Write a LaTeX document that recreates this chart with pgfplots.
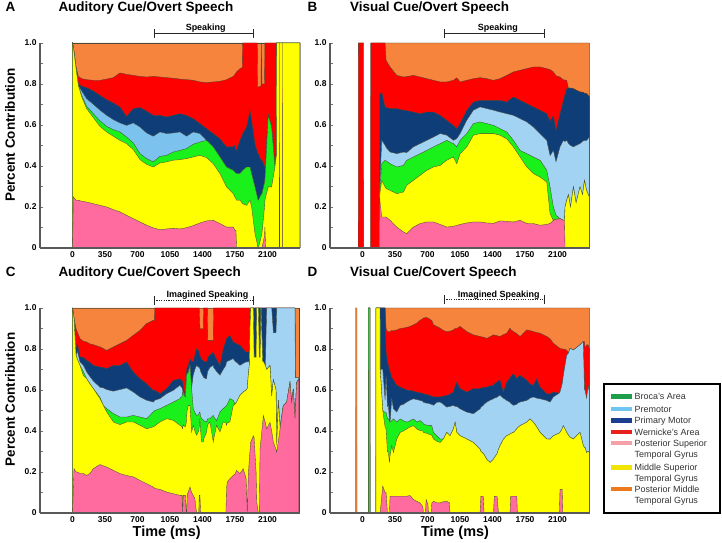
\documentclass[border=0pt]{standalone}
\usepackage{pgfplots}
\pgfplotsset{compat=1.18}
\usepackage{pgfplotstable}
\usepackage{fontspec}
\setmainfont{Liberation Sans}

\definecolor{cOr}{HTML}{F7843C}
\definecolor{cRd}{HTML}{FF0000}
\definecolor{cDb}{HTML}{0F3D78}
\definecolor{cLbA}{HTML}{7CC2EE}
\definecolor{cLb}{HTML}{A3D3F3}
\definecolor{cGr}{HTML}{1AF01A}
\definecolor{cYe}{HTML}{FFFF00}
\definecolor{cPk}{HTML}{FF6B9E}
\definecolor{cLine}{HTML}{4A4A3A}
\definecolor{lgGr}{HTML}{1E9E4A}
\definecolor{lgLb}{HTML}{6EC6F0}
\definecolor{lgDb}{HTML}{1B3F8E}
\definecolor{lgRd}{HTML}{E8201E}
\definecolor{lgPk}{HTML}{F4A1A8}
\definecolor{lgYe}{HTML}{F0E400}
\definecolor{lgOr}{HTML}{EE7A1E}

% Panel A: Auditory Cue / Overt Speech (cumulative layer tops)
\pgfplotstableread{
x pk ye gr lb db rd or
0 0 1 1 1 1 1 1
9 .249 .98 .98 .98 .98 .98 1
38 .233 .875 .875 .875 .875 .883 1
63 .233 .793 .793 .793 .802 .837 1
99 .228 .737 .745 .766 .789 .826 1
152 .224 .680 .691 .728 .782 .821 1
224 .216 .636 .655 .701 .766 .818 1
296 .208 .593 .620 .672 .745 .818 1
368 .200 .566 .593 .647 .724 .824 1
440 .187 .545 .577 .626 .707 .831 1
511 .176 .525 .566 .610 .688 .854 1
583 .159 .509 .541 .598 .642 .847 1
655 .143 .480 .512 .610 .680 .842 1
727 .127 .431 .460 .590 .685 .837 1
798 .111 .408 .436 .561 .668 .834 1
870 .098 .395 .420 .545 .647 .837 1
942 .089 .415 .447 .566 .647 .834 1
1014 .093 .420 .452 .558 .639 .831 1
1085 .096 .428 .468 .561 .647 .828 1
1157 .093 .431 .476 .566 .655 .824 1
1229 .099 .436 .485 .545 .647 .821 1
1300 .109 .444 .506 .566 .631 .818 1
1372 .122 .452 .517 .558 .607 .810 1
1444 .132 .441 .525 .525 .582 .807 1
1516 .135 .411 .493 .493 .558 .810 1
1588 .119 .363 .444 .444 .533 .813 1
1659 .102 .298 .395 .395 .493 .821 1
1731 .102 .265 .379 .379 .493 .837 1
1749 .086 .249 .371 .371 .501 .847 1
1760 .086 .240 .366 .366 .480 .855 1
1767 0 .233 .363 .363 .476 .859 1
1803 0 .233 .363 .363 .525 .875 1
1828 0 .220 .375 .375 .550 .880 1
1832 0 .216 .379 .379 .558 1 1
1875 0 .208 .395 .395 .590 1 1
1911 0 .233 .395 .395 .672 1 1
1929 0 .200 .363 .363 .623 1 1
1965 0 .070 .298 .298 .509 1 1
1990 0 .020 .250 .250 .470 1 1
1993 0 0 .240 .240 .465 .785 1
2001 0 0 .233 .233 .460 .785 1
2030 0 .050 .260 .260 .430 .790 1
2034 0 .060 .260 .260 .430 1 1
2040 0 .070 .265 .265 .428 .800 1
2068 .060 .200 .320 .320 .400 .800 1
2072 .102 .233 .330 .330 .395 1 1
2080 0 .250 .400 .400 .450 1 1
2108 0 .298 .649 .649 .649 1 1
2144 0 .298 .590 .590 .590 1 1
2180 0 .395 .395 .395 .395 1 1
2195 0 .450 .450 .450 .450 1 1
2198 0 1 1 1 1 1 1
2228 0 1 1 1 1 1 1
2229 1 1 1 1 1 1 1
2231 0 1 1 1 1 1 1
2258 0 1 1 1 1 1 1
2259 1 1 1 1 1 1 1
2261 0 1 1 1 1 1 1
2449 0 1 1 1 1 1 1
}\tA

% Panel B: Visual Cue / Overt Speech
\pgfplotstableread{
x pk ye gr lb db rd or
-46 0 0 0 0 0 0 0
-45 0 0 0 0 0 1 1
10 0 0 0 0 0 1 1
11 0 0 0 0 0 0 0
88 0 0 0 0 0 0 0
89 0 0 0 0 0 1 1
180 0 0 0 0 0 1 1
182 .249 .249 .249 .249 .746 1 1
207 .151 .330 .411 .525 .761 1 1
243 .151 .298 .428 .501 .688 1 1
254 .151 .290 .425 .490 .685 .915 1
297 .135 .281 .411 .468 .680 .883 1
369 .102 .265 .395 .460 .680 .842 1
441 .078 .273 .403 .468 .672 .834 1
476 .070 .306 .428 .465 .670 .836 1
548 .102 .330 .444 .493 .663 .842 1
620 .119 .354 .460 .509 .655 .834 1
692 .127 .379 .476 .525 .663 .826 1
764 .127 .395 .493 .541 .663 .818 1
836 .115 .403 .509 .558 .647 .810 1
907 .102 .428 .525 .550 .623 .810 1
979 .106 .444 .509 .525 .598 .818 1
1015 .110 .411 .493 .533 .582 .830 1
1051 .115 .460 .525 .558 .607 .810 1
1123 .122 .493 .558 .623 .672 .818 1
1194 .127 .550 .607 .672 .712 .826 1
1266 .127 .558 .615 .688 .720 .831 1
1338 .122 .558 .607 .680 .720 .826 1
1410 .120 .558 .598 .672 .720 .818 1
1481 .132 .550 .582 .663 .720 .826 1
1553 .130 .533 .566 .655 .712 .842 1
1625 .127 .493 .525 .647 .737 .859 1
1697 .135 .444 .476 .631 .720 .867 1
1769 .120 .395 .460 .615 .704 .875 1
1840 .119 .363 .444 .590 .688 .883 1
1912 .111 .346 .428 .558 .672 .883 1
1984 .115 .322 .379 .525 .655 .875 1
2020 .120 .167 .298 .450 .620 .870 1
2055 .135 .135 .200 .476 .647 .859 1
2084 .140 .140 .160 .420 .574 .840 1
2127 .143 .143 .143 .493 .655 .834 1
2163 .135 .135 .135 .525 .720 .820 1
2175 .135 .135 .135 .520 .740 .820 1
2181 0 .200 .200 .520 .750 .819 1
2199 0 .233 .233 .525 .777 .818 1
2217 0 .260 .260 .510 .780 .780 1
2240 0 .200 .200 .500 .780 .780 1
2271 0 .298 .298 .493 .777 .777 1
2300 0 .220 .220 .500 .770 .770 1
2342 0 .298 .298 .509 .761 .761 1
2370 0 .260 .260 .520 .760 .760 1
2390 0 .330 .330 .525 .755 .755 1
2413 0 .280 .280 .525 .753 .753 1
2443 0 .249 .249 .541 .737 .737 1
}\tB

% Panel C: Auditory Cue / Covert Speech
\pgfplotstableread{
x pk ye gr lb db rd or
0 0 1 1 1 1 1 1
16 .216 .95 .95 .95 .95 .95 1
38 .200 .77 .77 .77 .80 .90 1
52 .200 .75 .75 .79 .83 .883 1
81 .193 .720 .720 .737 .761 .850 1
117 .193 .670 .690 .720 .760 .838 1
152 .183 .655 .655 .688 .745 .834 1
188 .193 .630 .630 .665 .735 .825 1
224 .216 .607 .607 .644 .720 .821 1
296 .236 .558 .564 .613 .712 .810 1
332 .230 .525 .525 .610 .710 .802 1
368 .224 .493 .509 .602 .704 .793 1
440 .208 .444 .485 .594 .720 .810 1
511 .192 .431 .468 .602 .720 .826 1
583 .183 .444 .468 .610 .737 .842 1
655 .176 .444 .476 .590 .688 .867 1
727 .159 .428 .468 .566 .655 .891 1
798 .143 .411 .460 .550 .631 .924 1
870 .127 .420 .493 .541 .598 .940 1
884 .121 .424 .499 .548 .600 .940 1
886 .120 .425 .500 .550 .600 1 1
942 .115 .444 .509 .558 .582 1 1
1014 .102 .460 .525 .582 .607 1 1
1085 .094 .452 .541 .598 .647 1 1
1157 .086 .428 .558 .623 .655 1 1
1180 .086 .420 .570 .610 .645 1 1
1186 0 .411 .590 .600 .640 1 1
1192 .086 .430 .580 .590 .620 1 1
1215 .086 .420 .566 .566 .566 1 1
1225 0 .440 .640 .650 .680 1 1
1229 0 .475 .672 .672 .700 1 1
1235 .090 .500 .680 .680 .710 1 1
1247 .102 .525 .683 .690 .720 1 1
1265 .127 .525 .720 .720 .753 1 1
1283 .100 .395 .607 .610 .740 1 1
1300 .086 .428 .509 .672 .737 1 1
1318 .070 .400 .490 .700 .770 1 1
1336 0 .379 .476 .720 .802 1 1
1360 0 .400 .480 .710 .790 1 1
1365 .086 .420 .490 .710 .780 1 1
1372 .086 .460 .493 .704 .769 .899 1
1380 0 .400 .470 .690 .760 .899 1
1390 0 .346 .460 .680 .750 .899 1
1408 0 .346 .455 .665 .745 .899 1
1412 0 .360 .450 .660 .740 1 1
1444 0 .395 .444 .655 .737 1 1
1452 0 .420 .455 .680 .750 1 1
1456 0 .430 .460 .690 .760 .842 1
1480 0 .444 .460 .710 .770 .842 1
1516 0 .346 .476 .720 .785 .842 1
1520 0 .360 .470 .710 .780 1 1
1552 0 .428 .450 .690 .750 1 1
1588 0 .395 .493 .672 .720 1 1
1623 0 .444 .510 .700 .800 1 1
1652 0 .440 .520 .720 .840 1 1
1659 .120 .428 .525 .737 .850 1 1
1667 .151 .440 .530 .740 .855 1 1
1695 .167 .444 .558 .745 .867 1 1
1731 .184 .525 .550 .753 .834 1 1
1750 .190 .530 .530 .740 .830 1 1
1767 .208 .541 .541 .735 .825 1 1
1803 .192 .574 .574 .720 .818 1 1
1839 .216 .590 .590 .730 .800 1 1
1870 .167 .600 .600 .737 .785 1 1
1882 0 .607 .607 .737 .785 1 1
1893 .182 .672 .672 .737 .785 1 1
1904 .260 .720 .720 .740 .790 1 1
1911 .300 .900 .900 .900 .900 1 1
1919 .345 1 1 1 1 1 1
1948 .377 1 1 1 1 1 1
1955 .370 .76 .76 .76 1 1 1
1977 .200 .76 .76 .76 1 1 1
1984 .052 1 1 1 1 1 1
2002 0 1 1 1 1 1 1
2012 0 .76 .76 .76 1 1 1
2020 .312 .76 .76 .76 1 1 1
2030 .360 1 1 1 1 1 1
2048 .440 .74 .74 .74 1 1 1
2055 .475 .74 .74 .74 1 1 1
2077 .440 .72 .72 .72 1 1 1
2091 .410 .70 .70 1 1 1 1
2127 .442 .72 .72 1 1 1 1
2145 .400 .57 .57 1 1 1 1
2163 .345 .65 .65 .88 1 1 1
2192 .310 .60 .60 .88 1 1 1
2199 .296 .33 .33 1 1 1 1
2217 .350 .55 .55 1 1 1 1
2235 .410 .42 .42 1 1 1 1
2270 .524 .524 .524 1 1 1 1
2306 .540 .540 .540 1 1 1 1
2342 .637 .637 .637 1 1 1 1
2360 .540 .540 .540 1 1 1 1
2378 .605 .605 .605 1 1 1 1
2396 .459 .459 .459 1 1 1 1
2400 .500 .500 .500 .66 .66 .66 1
2414 .637 .637 .637 .66 .66 .66 1
2438 .654 .654 .654 .66 .66 .66 1
}\tC

% Panel D: Visual Cue / Covert Speech
\pgfplotstableread{
x pk ye gr lb db rd or
-76 0 0 0 0 0 0 0
-75 0 0 0 0 0 0 1
-60 0 0 0 0 0 0 1
-59 0 0 0 0 0 0 0
63 0 0 0 0 0 0 0
64 0 0 1 1 1 1 1
80 0 0 1 1 1 1 1
81 0 0 0 0 0 0 0
145 0 0 0 0 0 0 0
146 0 1 1 1 1 1 1
188 0 1 1 1 1 1 1
190 0 .70 .70 .70 1 1 1
218 .131 .50 .50 .70 1 1 1
243 .100 .42 .49 .55 1 1 1
254 .098 .41 .49 .67 .787 .90 1
268 0 .300 .460 .520 .740 .885 1
279 0 .295 .459 .525 .721 .885 1
290 0 .246 .450 .450 .700 .885 1
297 .082 .280 .443 .443 .689 .885 1
315 .082 .328 .450 .557 .660 .890 1
333 .082 .295 .459 .508 .650 .890 1
369 .082 .361 .443 .492 .623 .893 1
405 .082 .393 .459 .525 .615 .900 1
441 .082 .400 .450 .530 .607 .902 1
476 .082 .410 .443 .541 .600 .906 1
512 .085 .420 .450 .550 .598 .910 1
548 .066 .426 .459 .557 .595 .918 1
584 .057 .410 .443 .553 .590 .926 1
620 .049 .402 .451 .549 .586 .940 1
650 .030 .400 .440 .545 .584 .948 1
656 0 .393 .434 .540 .582 .951 1
678 0 .390 .430 .537 .579 .953 1
685 .066 .390 .430 .536 .578 .954 1
705 .040 .386 .427 .535 .576 .951 1
710 0 .385 .426 .535 .576 .950 1
740 0 .380 .426 .530 .570 .940 1
746 .049 .380 .426 .530 .570 .940 1
764 .057 .361 .393 .525 .566 .918 1
800 .050 .350 .377 .540 .566 .910 1
836 .049 .344 .361 .541 .566 .902 1
871 .055 .361 .361 .530 .570 .890 1
907 .057 .393 .393 .516 .574 .885 1
935 .050 .380 .380 .520 .578 .886 1
943 0 .377 .377 .520 .580 .887 1
979 0 .410 .410 .525 .590 .893 1
997 0 .443 .443 .520 .620 .900 1
1015 0 .393 .393 .520 .639 .900 1
1051 0 .377 .377 .508 .607 .910 1
1123 0 .361 .361 .492 .590 .885 1
1194 0 .344 .344 .484 .607 .869 1
1266 0 .311 .311 .508 .607 .861 1
1275 .082 .300 .300 .515 .610 .860 1
1300 .082 .290 .290 .525 .612 .858 1
1309 0 .285 .285 .530 .612 .856 1
1338 0 .262 .262 .541 .615 .852 1
1374 0 .246 .246 .550 .620 .860 1
1410 0 .262 .262 .557 .623 .869 1
1420 .082 .270 .270 .560 .630 .868 1
1450 .080 .290 .290 .565 .640 .865 1
1464 0 .310 .310 .570 .645 .863 1
1481 0 .328 .328 .574 .648 .861 1
1517 0 .360 .360 .560 .590 .870 1
1553 0 .377 .377 .549 .639 .877 1
1589 0 .385 .385 .540 .660 .902 1
1596 .082 .388 .388 .535 .665 .895 1
1625 .082 .393 .393 .525 .680 .885 1
1661 .082 .410 .410 .530 .656 .875 1
1668 0 .415 .415 .535 .660 .872 1
1697 0 .426 .426 .541 .672 .861 1
1769 0 .443 .443 .549 .648 .893 1
1804 0 .459 .459 .560 .630 .890 1
1840 0 .443 .443 .566 .623 .885 1
1876 0 .420 .420 .560 .656 .880 1
1912 0 .393 .393 .557 .615 .877 1
1984 0 .361 .361 .549 .582 .861 1
2020 0 .360 .360 .541 .580 .850 1
2055 0 .377 .377 .566 .590 .828 1
2120 0 .390 .390 .585 .585 .805 1
2127 .115 .393 .393 .590 .590 .803 1
2150 .115 .410 .410 .630 .630 .800 1
2157 0 .420 .420 .650 .650 .800 1
2163 0 .426 .426 .672 .672 .800 1
2199 0 .393 .393 .770 .770 .795 1
2217 0 .380 .380 .780 .780 .780 1
2235 0 .370 .370 .803 .803 .803 1
2271 0 .361 .361 .795 .795 .795 1
2342 0 .393 .393 .820 .820 .820 1
2378 0 .328 .328 .836 .836 .836 1
2390 0 .320 .320 .600 .600 .836 1
2396 0 .320 .320 .600 .600 .803 1
2413 0 .295 .295 .560 .560 .820 1
2430 0 .300 .300 .620 .620 .820 1
2443 0 .295 .295 .590 .590 .803 1
}\tD

\pgfplotsset{
  panel/.style={
    scale only axis, width=260bp, height=205bp,
    xmin=-350, xmax=2450, ymin=0, ymax=1,
    axis lines=left, axis on top,
    axis line style={-, draw=black!65, line width=1.1pt},
    xtick={0,350,700,1050,1400,1750,2100},
    xticklabels={0,350,700,1050,1400,1750,2100},
    ytick={0,0.2,0.4,0.6,0.8,1.0},
    yticklabels={0,0.2,0.4,0.6,0.8,1.0},
    minor ytick={0.1,0.3,0.5,0.7,0.9},
    tick align=inside,
    major tick length=3bp, minor tick length=3bp,
    xtick style={draw=none},
    ytick style={draw=black!55, line width=0.5pt},
    minor y tick style={draw=black!55, line width=0.5pt},
    tick label style={font=\fontsize{8.5}{9}\selectfont\bfseries},
    /pgf/number format/assume math mode=true,
  },
  lay/.style={fill=#1, draw=cLine, line width=0.35pt},
}

\newcommand\stackall[2]{%
  \addplot[lay=cOr] table[x=x,y=or]{#1} \closedcycle;
  \addplot[lay=cRd] table[x=x,y=rd]{#1} \closedcycle;
  \addplot[lay=cDb] table[x=x,y=db]{#1} \closedcycle;
  \addplot[lay=#2] table[x=x,y=lb]{#1} \closedcycle;
  \addplot[lay=cGr] table[x=x,y=gr]{#1} \closedcycle;
  \addplot[lay=cYe] table[x=x,y=ye]{#1} \closedcycle;
  \addplot[lay=cPk] table[x=x,y=pk]{#1} \closedcycle;
}

\begin{document}
\begin{tikzpicture}[x=1bp,y=1bp]
\useasboundingbox (0,0) rectangle (722,543);

\begin{axis}[panel, at={(40bp,295bp)}, anchor=south west]
\stackall{\tA}{cLbA}
\end{axis}
\begin{axis}[panel, at={(330bp,295bp)}, anchor=south west]
\stackall{\tB}{cLb}
\end{axis}
\begin{axis}[panel, at={(40bp,30bp)}, anchor=south west]
\stackall{\tC}{cLb}
\end{axis}
\begin{axis}[panel, at={(330bp,30bp)}, anchor=south west]
\stackall{\tD}{cLb}
\end{axis}

% titles
\tikzset{ttl/.style={font=\bfseries\fontsize{13.5}{15}\selectfont}}
\node[ttl, anchor=base] at (10.5,531) {A};
\node[ttl, anchor=base west] at (55,531) {Auditory Cue/Overt Speech};
\node[ttl, anchor=base] at (312.5,531) {B};
\node[ttl, anchor=base west] at (346.7,531) {Visual Cue/Overt Speech};
\node[ttl, anchor=base] at (10.8,266) {C};
\node[ttl, anchor=base west] at (55,266) {Auditory Cue/Covert Speech};
\node[ttl, anchor=base] at (312.5,266) {D};
\node[ttl, anchor=base west] at (346.7,266) {Visual Cue/Covert Speech};

% axis labels
\node[rotate=90, font=\bfseries\fontsize{13.5}{15}\selectfont] at (10,408) {Percent Contribution};
\node[rotate=90, font=\bfseries\fontsize{13.5}{15}\selectfont] at (10,143.5) {Percent Contribution};
\node[font=\bfseries\fontsize{14.5}{16}\selectfont] at (166.7,10) {Time (ms)};
\node[font=\bfseries\fontsize{14.5}{16}\selectfont] at (455,10) {Time (ms)};

% speaking brackets
\tikzset{brk/.style={draw=black!85, line width=0.8pt},
         brt/.style={font=\bfseries\fontsize{9}{10}\selectfont, anchor=base}}
\draw[brk] (154,505) -- (154,513.5) (154,509.7) -- (253.3,509.7) (253.3,505) -- (253.3,513.5);
\node[brt] at (205.7,512) {Speaking};
\draw[brk] (444,505) -- (444,513.5) (444,509.7) -- (544,509.7) (544,505) -- (544,513.5);
\node[brt] at (497.8,512) {Speaking};
\draw[brk] (154,238) -- (154,247.3) (253.3,238) -- (253.3,247.3);
\draw[brk, dash pattern=on 1.2pt off 1.2pt] (154,243) -- (253.3,243);
\node[brt] at (207.5,245.7) {Imagined Speaking};
\draw[brk] (444,238.5) -- (444,248) (544,238.5) -- (544,248);
\draw[brk, dash pattern=on 1.2pt off 1.2pt] (444,243.7) -- (544,243.7);
\node[brt] at (498.7,245.7) {Imagined Speaking};

% legend
\draw[black, line width=1.3pt] (604,30) rectangle (720,159);
\tikzset{lgt/.style={anchor=base west, text=black!80, font=\fontsize{9}{10}\selectfont, inner sep=0pt}}
\fill[lgGr] (610.7,144.1) rectangle (631.7,148.5);
\node[lgt] at (634.5,143.1) {Broca's Area};
\fill[lgLb] (610.7,131.8) rectangle (631.7,136.2);
\node[lgt] at (634.5,130.8) {Premotor};
\fill[lgDb] (610.7,120.1) rectangle (631.7,124.5);
\node[lgt] at (634.5,119.1) {Primary Motor};
\fill[lgRd] (610.7,108.8) rectangle (631.7,113.2);
\node[lgt] at (634.5,107.8) {Wernicke's Area};
\fill[lgPk] (610.7,97.5) rectangle (631.7,101.9);
\node[lgt] at (634.5,96.5) {Posterior Superior};
\node[lgt] at (634.5,85.5) {Temporal Gyrus};
\fill[lgYe] (610.7,73.1) rectangle (631.7,77.5);
\node[lgt] at (634.5,72.1) {Middle Superior};
\node[lgt] at (634.5,61.5) {Temporal Gyrus};
\fill[lgOr] (610.7,51.5) rectangle (631.7,55.9);
\node[lgt] at (634.5,50.5) {Posterior Middle};
\node[lgt] at (634.5,39.1) {Temporal Gyrus};
\end{tikzpicture}
\end{document}
